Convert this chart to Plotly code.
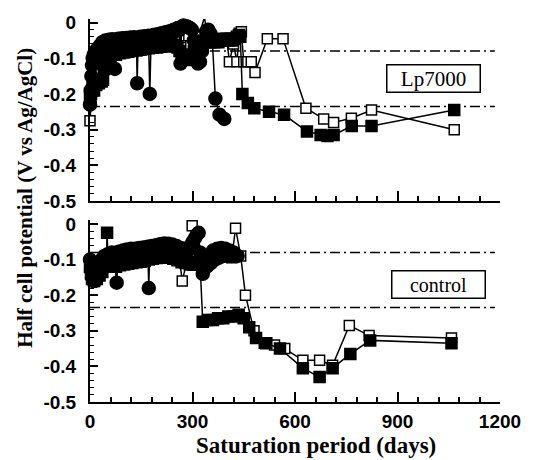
import plotly.graph_objects as go

# ---------------- data ----------------
# Top panel: Lp7000 -- filled circles
lp_circ_days = [0, 2, 4, 6, 8, 11, 14, 17, 20, 24, 28, 32, 36, 40, 45, 50, 55, 60, 65, 70, 73, 76, 82, 88, 94,
                100, 106, 112, 118, 124, 130, 136, 138, 141, 147, 153, 159, 165, 171, 175, 179, 185, 191, 197,
                203, 209, 215, 221, 227, 233, 239, 245, 251, 257, 262, 265, 268, 274, 280, 286, 292, 298, 304,
                310, 316, 322, 328, 334, 340, 346, 352, 358, 367, 379, 393]
lp_circ_v = [-0.23, -0.19, -0.15, -0.12, -0.1, -0.09, -0.11, -0.08, -0.075, -0.09, -0.065, -0.07, -0.055, -0.06,
             -0.05, -0.058, -0.048, -0.055, -0.047, -0.052, -0.13, -0.05, -0.045, -0.052, -0.044, -0.05, -0.043,
             -0.05, -0.042, -0.048, -0.041, -0.046, -0.17, -0.045, -0.04, -0.046, -0.038, -0.044, -0.037, -0.2,
             -0.042, -0.035, -0.04, -0.033, -0.038, -0.03, -0.035, -0.027, -0.032, -0.024, -0.028, -0.02, -0.024,
             -0.015, -0.02, -0.115, -0.012, -0.008, -0.01, -0.012, -0.015, -0.02, -0.05, -0.09, -0.115, -0.11,
             -0.08, -0.05, -0.025, -0.02, -0.03, -0.05, -0.213, -0.258, -0.27]

# Top panel: Lp7000 -- filled squares
lp_fsq_days = [0, 3, 6, 9, 12, 15, 18, 22, 26, 30, 34, 38, 42, 46, 50, 55, 60, 65, 70, 76, 82, 88, 94, 100, 106,
               112, 118, 124, 130, 136, 142, 148, 154, 160, 166, 172, 178, 184, 190, 196, 202, 208, 214, 220,
               226, 232, 238, 244, 250, 256, 262, 268, 274, 280, 286, 292, 298, 304, 310, 316, 322, 328, 334,
               340, 346, 352, 358, 364, 370, 376, 382, 388, 394, 400, 406, 412, 418, 424, 430, 436, 440, 446,
               462, 481, 524, 568, 635, 675, 695, 713, 766, 824, 1066]
lp_fsq_v = [-0.21, -0.2, -0.19, -0.18, -0.19, -0.17, -0.175, -0.165, -0.17, -0.16, -0.165, -0.16, -0.13, -0.12,
            -0.11, -0.1, -0.095, -0.09, -0.085, -0.09, -0.08, -0.086, -0.078, -0.084, -0.076, -0.082, -0.074,
            -0.08, -0.072, -0.078, -0.07, -0.076, -0.068, -0.074, -0.067, -0.072, -0.065, -0.07, -0.064, -0.07,
            -0.062, -0.068, -0.06, -0.066, -0.06, -0.065, -0.06, -0.066, -0.062, -0.07, -0.08, -0.09, -0.1,
            -0.095, -0.105, -0.1, -0.09, -0.08, -0.075, -0.065, -0.06, -0.055, -0.05, -0.055, -0.05, -0.055,
            -0.05, -0.055, -0.05, -0.055, -0.05, -0.045, -0.05, -0.045, -0.05, -0.045, -0.05, -0.045, -0.04,
            -0.035, -0.04, -0.2, -0.225, -0.24, -0.25, -0.258, -0.305, -0.315, -0.318, -0.315, -0.29, -0.29,
            -0.245]

# Top panel: Lp7000 -- open squares
lp_osq_days = [0, 3, 6, 10, 15, 20, 28, 36, 45, 55, 65, 80, 95, 110, 125, 140, 155, 170, 185, 200, 215, 230,
               245, 260, 270, 282, 295, 305, 318, 335, 345, 358, 372, 386, 400, 408, 420, 430, 437, 443, 450,
               462, 472, 483, 519, 565, 632, 684, 713, 765, 824, 1066]
lp_osq_v = [-0.275, -0.22, -0.17, -0.13, -0.11, -0.1, -0.09, -0.08, -0.075, -0.07, -0.065, -0.06, -0.058, -0.056,
            -0.054, -0.052, -0.05, -0.05, -0.048, -0.046, -0.045, -0.044, -0.04, -0.05, -0.065, -0.07, -0.065,
            -0.06, -0.04, 0.015, -0.045, -0.055, -0.05, -0.05, -0.045, -0.11, -0.06, -0.11, -0.03, -0.026, -0.11,
            -0.11, -0.11, -0.14, -0.045, -0.045, -0.24, -0.27, -0.28, -0.268, -0.245, -0.30]

# Bottom panel: control -- filled circles
ct_circ_days = [0, 3, 6, 9, 12, 15, 18, 22, 26, 30, 34, 38, 42, 46, 52, 58, 64, 70, 78, 84, 90, 96, 102, 108,
                114, 120, 126, 132, 138, 144, 150, 156, 162, 169, 172, 175, 181, 187, 193, 199, 205, 211, 217,
                223, 229, 235, 241, 247, 253, 259, 265, 271, 277, 283, 289, 295, 301, 307, 313, 318, 322, 326,
                330, 336, 342, 348, 354, 360, 366, 372, 378, 384, 390, 396, 402, 408, 414, 420, 426, 432]
ct_circ_v = [-0.1, -0.13, -0.15, -0.16, -0.15, -0.16, -0.14, -0.15, -0.12, -0.13, -0.1, -0.11, -0.09, -0.1,
             -0.085, -0.095, -0.08, -0.09, -0.165, -0.078, -0.085, -0.075, -0.082, -0.072, -0.08, -0.07, -0.078,
             -0.07, -0.076, -0.068, -0.074, -0.066, -0.072, -0.064, -0.18, -0.066, -0.062, -0.068, -0.06,
             -0.065, -0.057, -0.062, -0.055, -0.06, -0.056, -0.062, -0.058, -0.065, -0.062, -0.07, -0.068,
             -0.075, -0.07, -0.078, -0.072, -0.06, -0.05, -0.04, -0.03, -0.025, -0.08, -0.12, -0.14, -0.11,
             -0.12, -0.09, -0.11, -0.075, -0.1, -0.07, -0.095, -0.068, -0.09, -0.07, -0.09, -0.075, -0.09,
             -0.08, -0.09, -0.09]

# Bottom panel: control -- filled squares
ct_fsq_days = [0, 3, 6, 9, 12, 16, 20, 24, 28, 32, 36, 40, 44, 48, 50, 53, 58, 64, 70, 76, 82, 88, 94, 100, 106,
               112, 118, 124, 130, 136, 142, 148, 154, 160, 166, 172, 178, 184, 190, 196, 202, 208, 214, 220,
               226, 232, 238, 244, 250, 256, 262, 268, 274, 280, 286, 292, 298, 304, 310, 316, 322, 330, 345,
               360, 375, 390, 405, 420, 435, 450, 466, 486, 516, 556, 623, 672, 710, 762, 820, 1058]
ct_fsq_v = [-0.12, -0.14, -0.155, -0.15, -0.16, -0.15, -0.155, -0.14, -0.145, -0.13, -0.135, -0.12, -0.11, -0.1,
            -0.025, -0.105, -0.115, -0.12, -0.11, -0.12, -0.11, -0.116, -0.108, -0.114, -0.106, -0.112, -0.104,
            -0.11, -0.102, -0.108, -0.1, -0.106, -0.098, -0.104, -0.096, -0.1, -0.094, -0.098, -0.092, -0.096,
            -0.09, -0.095, -0.09, -0.094, -0.09, -0.095, -0.092, -0.098, -0.095, -0.102, -0.1, -0.108, -0.105,
            -0.11, -0.108, -0.114, -0.11, -0.115, -0.11, -0.115, -0.11, -0.275, -0.27, -0.27, -0.265, -0.265,
            -0.26, -0.26, -0.255, -0.265, -0.29, -0.32, -0.335, -0.35, -0.405, -0.43, -0.405, -0.365, -0.327,
            -0.335]

# Bottom panel: control -- open squares
ct_osq_days = [0, 5, 10, 20, 30, 45, 60, 80, 100, 120, 140, 160, 180, 200, 220, 240, 255, 262, 270, 285, 299,
               312, 325, 340, 355, 370, 385, 400, 415, 426, 441, 455, 480, 510, 540, 570, 623, 672, 710, 759,
               817, 1058]
ct_osq_v = [-0.11, -0.14, -0.13, -0.12, -0.11, -0.1, -0.1, -0.095, -0.09, -0.09, -0.088, -0.085, -0.085, -0.083,
            -0.083, -0.085, -0.09, -0.1, -0.16, -0.1, -0.005, -0.1, -0.095, -0.09, -0.09, -0.088, -0.09, -0.092,
            -0.095, -0.012, -0.09, -0.2, -0.3, -0.335, -0.34, -0.35, -0.383, -0.383, -0.397, -0.285, -0.313,
            -0.32]

ref_levels_top = [-0.08, -0.235]
ref_levels_bottom = [-0.08, -0.235]
ref_line_end = 1185

y_tickvals = [0, -0.1, -0.2, -0.3, -0.4, -0.5]
y_ticktext = ["0", "-0.1", "-0.2", "-0.3", "-0.4", "-0.5"]
x_tickvals = [0, 300, 600, 900, 1200]
x_ticktext = ["0", "300", "600", "900", "1200"]

panel_labels = ["Lp7000", "control"]
x_title = "Saturation period (days)"
y_title = "Half cell potential (V vs Ag/AgCl)"

# ---------------- figure ----------------
fig = go.Figure()

LINE = dict(color="black", width=1.5)


def add_series(xs, ys, symbol, size, fill, xa, ya):
    fig.add_trace(go.Scatter(
        x=xs, y=ys, mode="lines+markers", xaxis=xa, yaxis=ya, cliponaxis=False,
        line=LINE, showlegend=False, hoverinfo="skip",
        marker=dict(symbol=symbol, size=size, color=fill, line=dict(color="black", width=1.5)),
    ))


add_series(lp_osq_days, lp_osq_v, "square", 10, "white", "x", "y")
add_series(lp_fsq_days, lp_fsq_v, "square", 11, "black", "x", "y")
add_series(lp_circ_days, lp_circ_v, "circle", 13, "black", "x", "y")

add_series(ct_osq_days, ct_osq_v, "square", 10, "white", "x2", "y2")
add_series(ct_fsq_days, ct_fsq_v, "square", 11, "black", "x2", "y2")
add_series(ct_circ_days, ct_circ_v, "circle", 13, "black", "x2", "y2")

shapes = []
for lv in ref_levels_top:
    shapes.append(dict(type="line", xref="x", yref="y", x0=0, x1=ref_line_end, y0=lv, y1=lv,
                       line=dict(color="black", width=1.5, dash="10px,4px,2px,4px"), layer="below"))
for lv in ref_levels_bottom:
    shapes.append(dict(type="line", xref="x2", yref="y2", x0=0, x1=ref_line_end, y0=lv, y1=lv,
                       line=dict(color="black", width=1.5, dash="10px,4px,2px,4px"), layer="below"))

TICKFONT = dict(family="Liberation Sans", size=19, color="black", weight="bold")

xcommon = dict(range=[0, 1200], showline=True, linecolor="black", linewidth=2, showgrid=False, zeroline=False,
               ticks="inside", ticklen=10, tickwidth=1.5, tickcolor="black", tickvals=x_tickvals,
               minor=dict(tick0=0, dtick=60, ticks="inside", ticklen=5, tickwidth=1.5, tickcolor="black",
                          showgrid=False),
               tickfont=TICKFONT, ticklabelstandoff=1)
ycommon = dict(range=[-0.5, 0.01], showline=True, linecolor="black", linewidth=2, showgrid=False,
               zeroline=False, ticks="inside", ticklen=8, tickwidth=1.5, tickcolor="black",
               tickvals=y_tickvals, ticktext=y_ticktext,
               minor=dict(tick0=0, dtick=0.02, ticks="inside", ticklen=4, tickwidth=1.2, tickcolor="black",
                          showgrid=False),
               tickfont=TICKFONT, ticklabelstandoff=8)

fig.update_layout(
    width=533, height=460,
    margin=dict(l=90, r=29, t=17, b=58),
    paper_bgcolor="white", plot_bgcolor="white",
    xaxis=dict(**xcommon, anchor="y", showticklabels=False),
    yaxis=dict(**ycommon, anchor="x", domain=[0.5247, 1.0]),
    xaxis2=dict(**xcommon, anchor="y2", ticktext=x_ticktext, showticklabels=True),
    yaxis2=dict(**ycommon, anchor="x2", domain=[0.0, 0.4743]),
    shapes=shapes,
    annotations=[
        dict(text=panel_labels[0], xref="paper", yref="paper", x=0.8370, y=0.8455, showarrow=False,
             xanchor="center", yanchor="middle",
             font=dict(family="Liberation Serif", size=21, color="black"),
             bordercolor="black", borderwidth=1.5, borderpad=0, width=92, height=26, bgcolor="white"),
        dict(text=panel_labels[1], xref="paper", yref="paper", x=0.8510, y=0.3080, showarrow=False,
             xanchor="center", yanchor="middle",
             font=dict(family="Liberation Serif", size=20, color="black"),
             bordercolor="black", borderwidth=1.5, borderpad=0, width=92, height=26, bgcolor="white"),
        dict(text=x_title, xref="paper", yref="paper", x=0.5507, y=-0.1140, showarrow=False,
             xanchor="center", yanchor="middle",
             font=dict(family="Liberation Serif", size=23, color="black", weight="bold")),
        dict(text=y_title, xref="paper", yref="paper", x=-0.157, y=0.532, showarrow=False,
             xanchor="center", yanchor="middle", textangle=-90,
             font=dict(family="Liberation Serif", size=21, color="black", weight="bold")),
    ],
)

fig.write_html("out.html")
